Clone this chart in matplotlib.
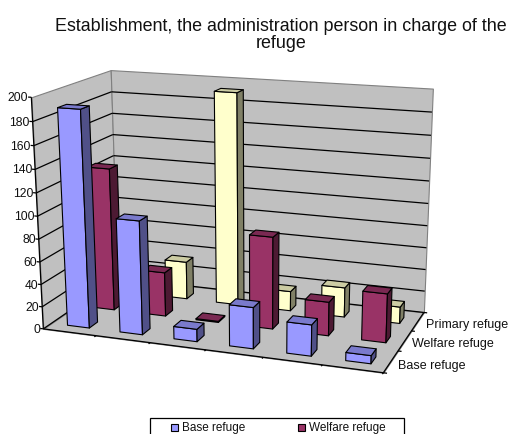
import numpy as np
import matplotlib
matplotlib.use("Agg")
import matplotlib.pyplot as plt
from matplotlib.patches import Rectangle
from mpl_toolkits.mplot3d import proj3d
from mpl_toolkits.mplot3d.art3d import Poly3DCollection, Line3DCollection

plt.rcParams['font.family'] = ['Liberation Sans', 'DejaVu Sans']

title = "Establishment, the administration person in charge of the\nrefuge"
series_names = ["Base refuge", "Welfare refuge", "Primary refuge"]
base_refuge = [190, 100, 11, 36, 27, 7]
welfare_refuge = [129, 40, 1, 82, 30, 43]
primary_refuge = [0, 35, 193, 18, 27, 15]
z_ticks = [0, 20, 40, 60, 80, 100, 120, 140, 160, 180, 200]

face_colors = ["#9999FF", "#993366", "#FFFFCC"]
top_colors = ["#7A7ACC", "#7A2952", "#CCCCA3"]
side_colors = ["#505088", "#4D1A33", "#808066"]
text_color = "#111111"

fig = plt.figure(figsize=(5.23, 4.35), dpi=100)
# bigger than the figure, so nothing gets clipped by the 3d axes square
ax = fig.add_axes([-0.2, -0.2, 1.4, 1.4], projection='3d', computed_zorder=False)
ax.set_axis_off()
ax.patch.set_visible(False)

n_cat = len(base_refuge)
n_ser = len(series_names)
z_max = z_ticks[-1]
order = 1


def add_poly(verts, fc, ec, lw):
    global order
    ax.add_collection3d(Poly3DCollection([verts], facecolors=fc, edgecolors=ec,
                                         linewidths=lw, zorder=order), autolim=False)
    order += 1


def add_line(p0, p1, color="black", lw=0.9):
    global order
    ax.add_collection3d(Line3DCollection([[p0, p1]], colors=color, linewidths=lw,
                                         zorder=order), autolim=False)
    order += 1


# walls and floor
add_poly([(0, 0, 0), (0, n_ser, 0), (0, n_ser, z_max), (0, 0, z_max)], "#C0C0C0", "#808080", 0.8)
add_poly([(0, n_ser, 0), (n_cat, n_ser, 0), (n_cat, n_ser, z_max), (0, n_ser, z_max)], "#C0C0C0", "#808080", 0.8)
add_poly([(0, 0, 0), (n_cat, 0, 0), (n_cat, n_ser, 0), (0, n_ser, 0)], "#C0C0C0", "#808080", 0.8)

# grid lines, the top edge of the walls stays grey
for z in z_ticks[:-1]:
    add_line((0, 0, z), (0, n_ser, z))
    add_line((0, n_ser, z), (n_cat, n_ser, z))
for z in z_ticks:
    add_line((0, 0, z), (-0.06, 0, z))

# axis edges on the floor and ticks
add_line((0, 0, 0), (0, 0, z_max))
add_line((0, 0, 0), (n_cat, 0, 0))
add_line((n_cat, 0, 0), (n_cat, n_ser, 0))
for i in range(1, n_cat + 1):
    add_line((i, 0, 0), (i, -0.06, 0))
for i in range(n_ser + 1):
    add_line((n_cat, i, 0), (n_cat + 0.06, i, 0))

# bars, back row first
bar_w = 0.42
bar_d = 0.32
all_values = [base_refuge, welfare_refuge, primary_refuge]
for s in range(n_ser - 1, -1, -1):
    for c in range(n_cat):
        v = all_values[s][c]
        if v == 0:
            continue
        x0 = c + 0.5 - bar_w / 2
        x1 = x0 + bar_w
        y0 = s + 0.32
        y1 = y0 + bar_d
        add_poly([(x0, y0, 0), (x1, y0, 0), (x1, y0, v), (x0, y0, v)], face_colors[s], "black", 0.8)
        add_poly([(x1, y0, 0), (x1, y1, 0), (x1, y1, v), (x1, y0, v)], side_colors[s], "black", 0.8)
        add_poly([(x0, y0, v), (x1, y0, v), (x1, y1, v), (x0, y1, v)], top_colors[s], "black", 0.8)

# camera: fit the projection to where the box corners sit in the picture
corners = [(0, 0, 0), (n_cat, 0, 0), (n_cat, n_ser, 0), (0, n_ser, 0),
           (0, 0, z_max), (0, n_ser, z_max), (n_cat, n_ser, z_max)]
corner_px = [(43, 329), (383, 375), (424, 312), (118, 280), (32, 98), (110, 71), (433, 90)]
ax.apply_aspect()
to_data = ax.transData.inverted()
A = []
b = []
for (X, Y, Z), (px, py) in zip(corners, corner_px):
    u, v = to_data.transform((px, 435 - py))
    A.append([X, Y, Z, 1, 0, 0, 0, 0, -u * X, -u * Y, -u * Z])
    A.append([0, 0, 0, 0, X, Y, Z, 1, -v * X, -v * Y, -v * Z])
    b += [u, v]
p = np.linalg.lstsq(np.array(A, dtype=float), np.array(b, dtype=float), rcond=None)[0]
M = np.array([[p[0], p[1], p[2], p[3]],
              [p[4], p[5], p[6], p[7]],
              [0, 1, 0, 0],
              [p[8], p[9], p[10], 1]])
ax.get_proj = lambda: M


def label_at(x, y, z, s, dx, dy, ha, size):
    u, v, _ = proj3d.proj_transform(x, y, z, M)
    ax.annotate(s, xy=(u, v), xytext=(dx, dy), textcoords='offset pixels', ha=ha, va='center',
                fontsize=size, color=text_color, annotation_clip=False)


for z in z_ticks:
    label_at(0, 0, z, str(z), -3, 0, 'right', 8.7)
for i in range(n_ser):
    label_at(n_cat, i + 0.32, 0, series_names[i], 10, 1, 'left', 9)

fig.text(281 / 523, 1 - 35 / 435, title, ha='center', va='center', fontsize=12.85,
         color=text_color, linespacing=0.96)

# legend box runs off the bottom of the picture, only the first row shows
fig.add_artist(Rectangle((150 / 523, -0.05), 254 / 523, 0.05 + 16 / 435, transform=fig.transFigure,
                         facecolor="white", edgecolor="black", lw=0.9))
legend_x = [171, 298]
for i in range(2):
    fig.add_artist(Rectangle((legend_x[i] / 523, 1 - 432 / 435), 7 / 523, 7 / 435, transform=fig.transFigure,
                             facecolor=face_colors[i], edgecolor="black", lw=0.8))
    fig.text((legend_x[i] + 11) / 523, 1 - 428 / 435, series_names[i], ha='left', va='center',
             fontsize=8.5, color=text_color)

fig.savefig("out.png", dpi=100)
